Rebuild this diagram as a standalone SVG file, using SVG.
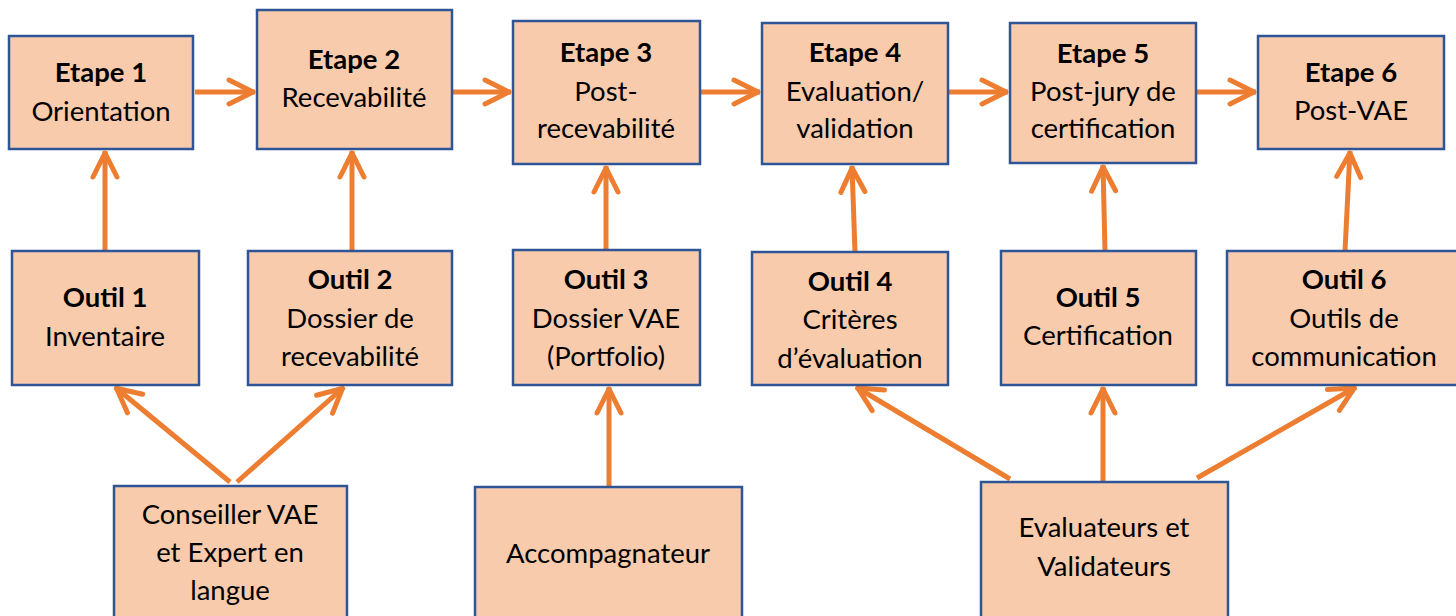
<svg xmlns="http://www.w3.org/2000/svg" width="1456" height="616" viewBox="0 0 1456 616">
<style>
.box{fill:#F8CBAD;stroke:#2F5597;stroke-width:2.5}
text{font-family:Lato,"Open Sans","Liberation Sans",sans-serif;font-size:27.5px;fill:#000;text-anchor:middle}
.b{font-weight:bold}
.c{stroke:#ED7D31;stroke-width:5;fill:none}
</style>
<defs>
<marker id="ah" markerUnits="userSpaceOnUse" orient="auto" refX="2" refY="0" markerWidth="40" markerHeight="40" overflow="visible">
<path d="M-24,-12 L0,0 L-24,12" fill="none" stroke="#ED7D31" stroke-width="5" stroke-linecap="round" stroke-linejoin="round"/>
</marker>
</defs>
<rect width="1456" height="616" fill="#fff"/>
<g id="connectors">
<line class="c" x1="195" y1="92" x2="255" y2="92" marker-end="url(#ah)"/>
<line class="c" x1="452" y1="92" x2="511" y2="92" marker-end="url(#ah)"/>
<line class="c" x1="700" y1="92" x2="760" y2="92" marker-end="url(#ah)"/>
<line class="c" x1="948" y1="92" x2="1008" y2="92" marker-end="url(#ah)"/>
<line class="c" x1="1196" y1="92" x2="1256" y2="92" marker-end="url(#ah)"/>
<line class="c" x1="105" y1="251" x2="105" y2="151" marker-end="url(#ah)"/>
<line class="c" x1="352" y1="251" x2="352" y2="151" marker-end="url(#ah)"/>
<line class="c" x1="606" y1="250" x2="606" y2="166" marker-end="url(#ah)"/>
<line class="c" x1="855" y1="252" x2="852" y2="166" marker-end="url(#ah)"/>
<line class="c" x1="1105" y1="251" x2="1103" y2="165" marker-end="url(#ah)"/>
<line class="c" x1="1345" y1="251" x2="1350" y2="151" marker-end="url(#ah)"/>
<line class="c" x1="230" y1="482" x2="115" y2="387" marker-end="url(#ah)"/>
<line class="c" x1="237" y1="482" x2="344" y2="387" marker-end="url(#ah)"/>
<line class="c" x1="609" y1="486" x2="609" y2="387" marker-end="url(#ah)"/>
<line class="c" x1="1010" y1="479" x2="856" y2="387" marker-end="url(#ah)"/>
<line class="c" x1="1103" y1="482" x2="1103" y2="387" marker-end="url(#ah)"/>
<line class="c" x1="1197" y1="478" x2="1356" y2="387" marker-end="url(#ah)"/>
</g>
<g id="etape1"><rect class="box" x="9" y="36" width="184" height="113"/><text x="101" y="82" class="b">Etape 1</text><text x="101" y="121">Orientation</text></g>
<g id="etape2"><rect class="box" x="257" y="10" width="195" height="139"/><text x="354" y="69" class="b">Etape 2</text><text x="354" y="107">Recevabilité</text></g>
<g id="etape3"><rect class="box" x="513" y="21" width="187" height="143"/><text x="606" y="62" class="b">Etape 3</text><text x="606" y="101">Post-</text><text x="606" y="138">recevabilité</text></g>
<g id="etape4"><rect class="box" x="762" y="23" width="186" height="141"/><text x="855" y="62" class="b">Etape 4</text><text x="855" y="101">Evaluation/</text><text x="855" y="138">validation</text></g>
<g id="etape5"><rect class="box" x="1010" y="23" width="186" height="140"/><text x="1103" y="63" class="b">Etape 5</text><text x="1103" y="101">Post-jury de</text><text x="1103" y="138">certification</text></g>
<g id="etape6"><rect class="box" x="1258" y="36" width="186" height="113"/><text x="1351" y="82" class="b">Etape 6</text><text x="1351" y="120">Post-VAE</text></g>
<g id="outil1"><rect class="box" x="12" y="251" width="187" height="134"/><text x="105" y="307" class="b">Outil 1</text><text x="105" y="346">Inventaire</text></g>
<g id="outil2"><rect class="box" x="248" y="251" width="204" height="134"/><text x="350" y="289" class="b">Outil 2</text><text x="350" y="328">Dossier de</text><text x="350" y="366">recevabilité</text></g>
<g id="outil3"><rect class="box" x="513" y="250" width="187" height="135"/><text x="606" y="289" class="b">Outil 3</text><text x="606" y="328">Dossier VAE</text><text x="606" y="366">(Portfolio)</text></g>
<g id="outil4"><rect class="box" x="752" y="252" width="196" height="133"/><text x="850" y="291" class="b">Outil 4</text><text x="850" y="329">Critères</text><text x="850" y="368">d’évaluation</text></g>
<g id="outil5"><rect class="box" x="1001" y="251" width="195" height="134"/><text x="1098" y="307" class="b">Outil 5</text><text x="1098" y="345">Certification</text></g>
<g id="outil6"><rect class="box" x="1227" y="251" width="232" height="134"/><text x="1344" y="289" class="b">Outil 6</text><text x="1344" y="328">Outils de</text><text x="1344" y="366">communication</text></g>
<g id="conseiller"><rect class="box" x="114" y="486" width="233" height="140"/><text x="230" y="524">Conseiller VAE</text><text x="230" y="562">et Expert en</text><text x="230" y="600">langue</text></g>
<g id="accompagnateur"><rect class="box" x="475" y="487" width="267" height="140"/><text x="608" y="563">Accompagnateur</text></g>
<g id="evaluateurs"><rect class="box" x="981" y="482" width="247" height="145"/><text x="1104" y="537">Evaluateurs et</text><text x="1104" y="576">Validateurs</text></g>
</svg>
